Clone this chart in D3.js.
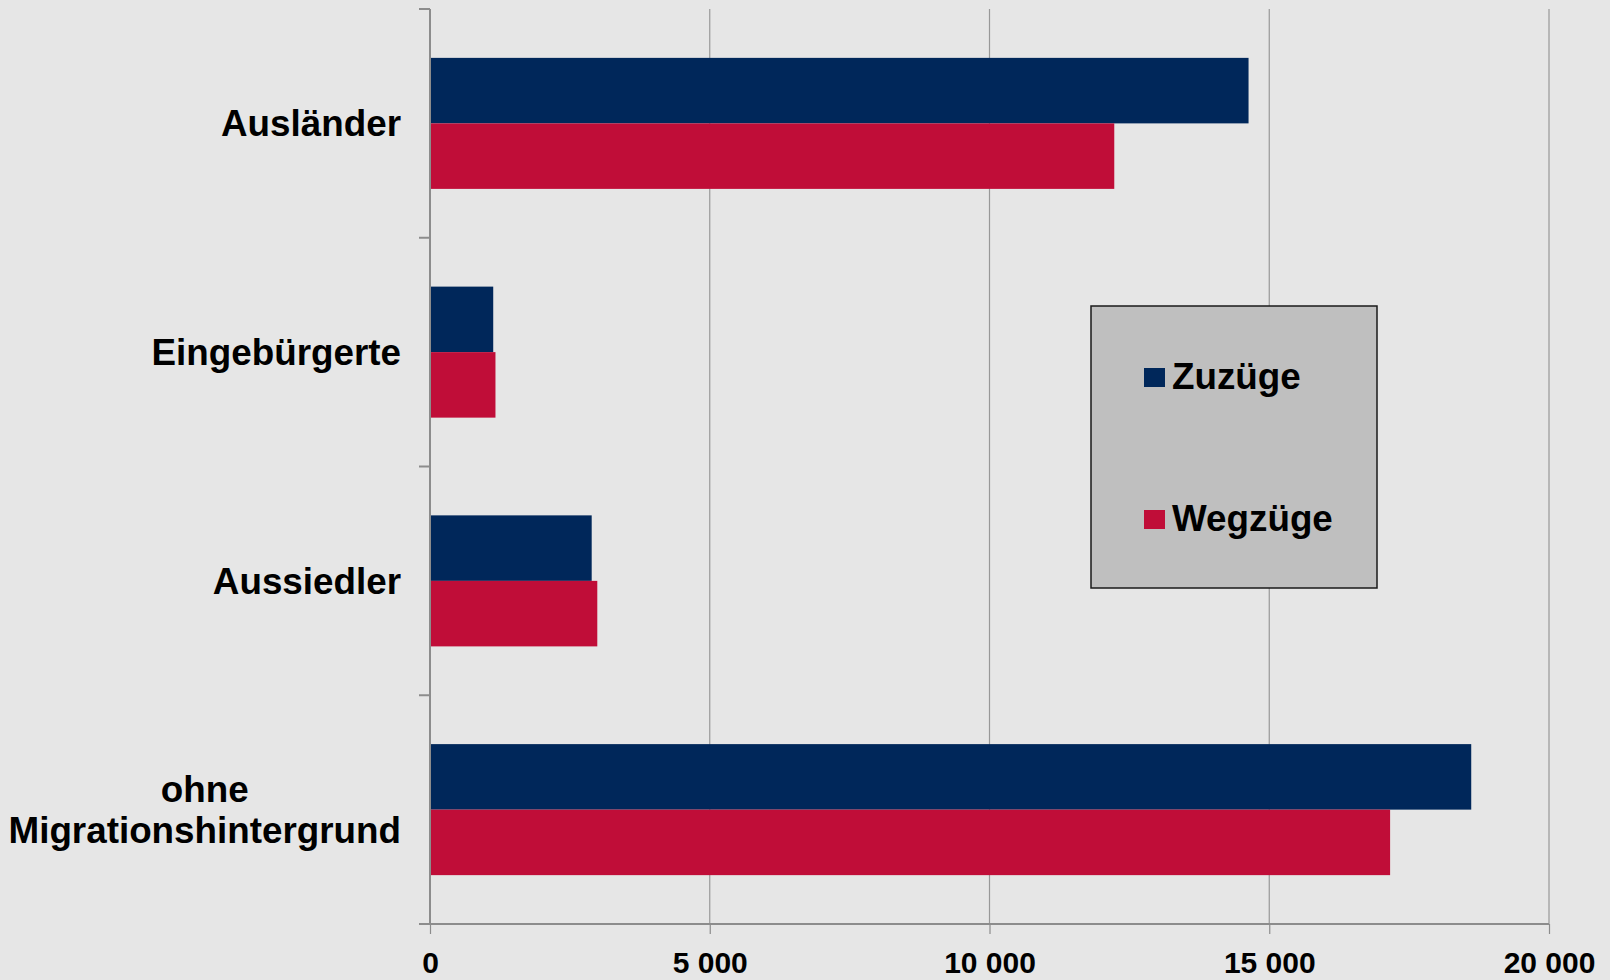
<!DOCTYPE html>
<html>
<head>
<meta charset="utf-8">
<script src="https://cdn.jsdelivr.net/npm/d3@7"></script>
<style>
  html, body { margin: 0; padding: 0; background: #e6e6e6; }
  svg { display: block; font-family: "Liberation Sans", Arial, sans-serif; font-weight: bold; }
</style>
</head>
<body>
<div id="chart"></div>
<script>
// chart data
const categories = ["Ausländer", "Eingebürgerte", "Aussiedler", "ohne Migrationshintergrund"];
const categoryLines = [["Ausländer"], ["Eingebürgerte"], ["Aussiedler"], ["ohne", "Migrationshintergrund"]];
const seriesNames = ["Zuzüge", "Wegzüge"];
const zuzuege = [14630, 1130, 2890, 18610];
const wegzuege = [12230, 1170, 2990, 17160];
const xTicks = [0, 5000, 10000, 15000, 20000];

const colors = {"Zuzüge": "#00275a", "Wegzüge": "#c00d38"};

const svgWidth = 1610, svgHeight = 980;
const margin = {top: 9, right: 61, bottom: 56, left: 430};
const width = svgWidth - margin.left - margin.right,
      height = svgHeight - margin.top - margin.bottom;

const svg = d3.select("#chart").append("svg")
  .attr("width", svgWidth)
  .attr("height", svgHeight);

svg.append("rect").attr("width", svgWidth).attr("height", svgHeight).attr("fill", "#e6e6e6");

const g = svg.append("g").attr("transform", "translate(" + margin.left + "," + margin.top + ")");

const x = d3.scaleLinear().domain([0, 20000]).range([0, width]);
const y = d3.scaleBand().domain(categories).range([0, height]).paddingInner(0).paddingOuter(0);
const ySub = d3.scaleBand().domain(seriesNames).range([0, y.bandwidth()]).paddingInner(0).paddingOuter(0.746);

// gridlines
g.append("g").selectAll("line")
  .data(xTicks.filter(d => d > 0))
  .enter().append("line")
    .attr("x1", d => x(d)).attr("x2", d => x(d))
    .attr("y1", 0).attr("y2", height)
    .attr("stroke", "#989898").attr("stroke-width", 1.2);

// bars
const rows = categories.map((c, i) => ({cat: c, values: [
  {key: "Zuzüge", value: zuzuege[i]},
  {key: "Wegzüge", value: wegzuege[i]}
]}));

const groups = g.selectAll(".grp").data(rows).enter().append("g")
  .attr("class", "grp")
  .attr("transform", d => "translate(0," + y(d.cat) + ")");

groups.selectAll("rect").data(d => d.values).enter().append("rect")
  .attr("x", x(0))
  .attr("y", d => ySub(d.key))
  .attr("width", d => x(d.value) - x(0))
  .attr("height", ySub.bandwidth())
  .attr("fill", d => colors[d.key]);

// x axis
const locale = d3.formatLocale({decimal: ",", thousands: " ", grouping: [3], currency: ["", " €"]});
const fmt = locale.format(",d");

const xAxis = g.append("g")
  .attr("transform", "translate(0," + height + ")")
  .call(d3.axisBottom(x).tickValues(xTicks).tickFormat(fmt).tickSize(10).tickPadding(18));
xAxis.select(".domain").remove();
xAxis.selectAll(".tick line").attr("stroke", "#8c8c8c").attr("stroke-width", 1.2);
xAxis.selectAll(".tick text")
  .attr("fill", "#000")
  .style("font-size", "30px")
  .style("font-weight", "bold")
  .style("font-family", "'Liberation Sans', Arial, sans-serif");

g.append("line")
  .attr("x1", -11).attr("x2", width)
  .attr("y1", height).attr("y2", height)
  .attr("stroke", "#8c8c8c").attr("stroke-width", 2);

// y axis (Excel style: ticks on band edges)
const edges = categories.map(c => y(c)).concat([height]);
g.append("line")
  .attr("x1", 0).attr("x2", 0).attr("y1", 0).attr("y2", height)
  .attr("stroke", "#8c8c8c").attr("stroke-width", 2);
g.append("g").selectAll("line").data(edges).enter().append("line")
  .attr("x1", -11).attr("x2", 0)
  .attr("y1", d => d).attr("y2", d => d)
  .attr("stroke", "#8c8c8c").attr("stroke-width", 2);

// category labels
const labelRight = -29;
const fs = 36.8, lineH = 41;
categoryLines.forEach((lines, i) => {
  const cy = y(categories[i]) + y.bandwidth() / 2;
  const t = g.append("text")
    .style("font-size", fs + "px")
    .attr("fill", "#000");
  const first = cy + 0.35 * fs - (lines.length - 1) * lineH / 2;
  const spans = lines.map((ln, j) => t.append("tspan")
    .attr("y", first + j * lineH)
    .text(ln));
  if (lines.length === 1) {
    t.attr("text-anchor", "end");
    spans[0].attr("x", labelRight);
  } else {
    const maxW = d3.max(spans, s => s.node().getComputedTextLength());
    t.attr("text-anchor", "middle");
    spans.forEach(s => s.attr("x", labelRight - maxW / 2));
  }
});

// legend
const legend = svg.append("g").attr("transform", "translate(1091,306)");
legend.append("rect")
  .attr("width", 286).attr("height", 282)
  .attr("fill", "#bfbfbf").attr("stroke", "#1a1a1a").attr("stroke-width", 1.5);
const items = legend.selectAll(".item").data(seriesNames).enter().append("g")
  .attr("transform", (d, i) => "translate(53," + (62 + i * 142) + ")");
items.append("rect")
  .attr("width", 21).attr("height", 19)
  .attr("fill", d => colors[d]);
items.append("text")
  .attr("x", 28).attr("y", 21)
  .style("font-size", "36.8px")
  .attr("fill", "#000")
  .text(d => d);
</script>
</body>
</html>
